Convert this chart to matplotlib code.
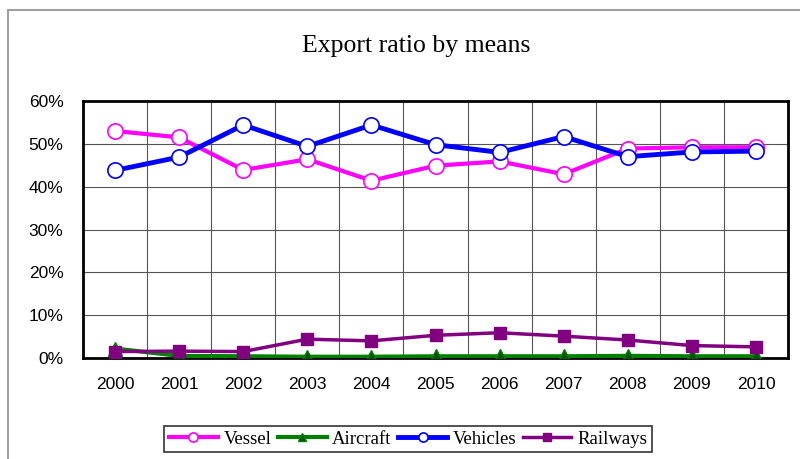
import matplotlib.pyplot as plt
from matplotlib.patches import Rectangle
from matplotlib.ticker import PercentFormatter

years = ["2000", "2001", "2002", "2003", "2004", "2005", "2006", "2007", "2008", "2009", "2010"]
vessel = [53.0, 51.5, 43.9, 46.4, 41.4, 44.9, 45.9, 42.9, 48.9, 49.2, 49.2]
aircraft = [2.2, 0.5, 0.4, 0.3, 0.3, 0.4, 0.4, 0.4, 0.5, 0.4, 0.4]
vehicles = [43.8, 46.9, 54.4, 49.4, 54.4, 49.8, 48.0, 51.7, 47.0, 48.1, 48.3]
railways = [1.5, 1.6, 1.5, 4.4, 4.0, 5.3, 5.9, 5.1, 4.2, 2.9, 2.6]

fig = plt.figure(figsize=(8, 4.59), dpi=100)
# outer chart border
fig.patches.append(Rectangle((8 / 800, -0.1), 1.1, 1 - 10 / 459 + 0.1, transform=fig.transFigure,
                             fill=False, edgecolor="#a0a0a0", linewidth=1.5))

ax = fig.add_axes([83 / 800, 1 - 358 / 459, (788 - 83) / 800, (358 - 101) / 459])
x = list(range(len(years)))

ax.plot(x, vessel, color="#ff00ff", lw=3, marker="o", ms=11, mfc="white", mec="#ff00ff", mew=1.2,
        label="Vessel", zorder=3)
ax.plot(x, aircraft, color="#008000", lw=3, marker="^", ms=10, mfc="#005000", mec="#008000",
        label="Aircraft", zorder=3)
ax.plot(x, vehicles, color="#0000ff", lw=3.5, marker="o", ms=11, mfc="white", mec="#0000ff", mew=1.2,
        label="Vehicles", zorder=4)
ax.plot(x, railways, color="#800080", lw=2.5, marker="s", ms=9, mfc="#800080", mec="#800080",
        label="Railways", zorder=5)

ax.set_xlim(-0.5, len(years) - 0.5)
ax.set_ylim(0, 60)
ax.set_yticks(range(0, 61, 10))
ax.yaxis.set_major_formatter(PercentFormatter(decimals=0))
ax.set_xticks(x)
ax.set_xticklabels(years)
ax.set_xticks([i + 0.5 for i in x[:-1]], minor=True)
ax.grid(True, which="minor", axis="x", color="#555555", lw=0.8)
ax.grid(True, which="major", axis="y", color="#555555", lw=0.8)
ax.tick_params(which="both", length=0)
ax.tick_params(axis="both", labelsize=12.5)
ax.tick_params(axis="x", pad=14)
ax.tick_params(axis="y", pad=14)
for lab in ax.get_xticklabels() + ax.get_yticklabels():
    lab.set_fontfamily("Liberation Sans")
for s in ax.spines.values():
    s.set_linewidth(2)
ax.set_axisbelow(True)

fig.text(416 / 800, 1 - 46 / 459, "Export ratio by means", ha="center", va="center",
         fontsize=18.5, fontfamily="Liberation Serif")

leg = fig.legend(loc="center", bbox_to_anchor=(408 / 800, 1 - 439 / 459), ncol=4,
                 prop={"family": "Liberation Serif", "size": 13.5}, frameon=True, fancybox=False,
                 edgecolor="black", handlelength=2.6, columnspacing=0.35, handletextpad=0.3,
                 borderpad=0.25, markerscale=0.6)
leg.get_frame().set_linewidth(1.2)

fig.savefig("out.png", dpi=100)
